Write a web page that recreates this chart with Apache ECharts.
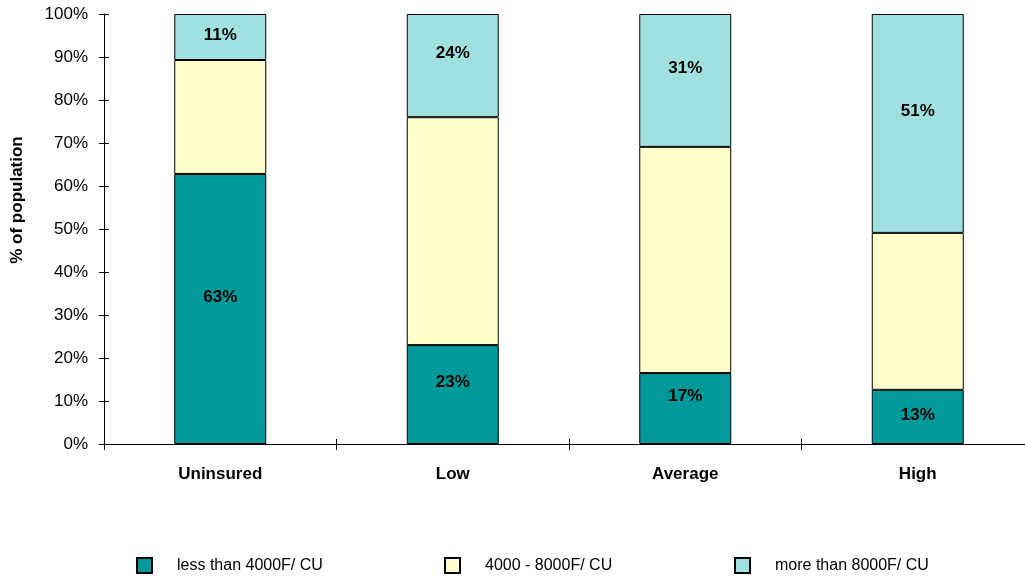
<!DOCTYPE html>
<html>
<head>
<meta charset="utf-8">
<script src="https://cdn.jsdelivr.net/npm/echarts@6/dist/echarts.min.js"></script>
<style>
html,body{margin:0;padding:0;background:#fff;}
#chart{width:1025px;height:577px;}
</style>
</head>
<body>
<div id="chart"></div>
<script>
const categories = ['Uninsured', 'Low', 'Average', 'High'];
const seriesNames = ['less than 4000F/ CU', '4000 - 8000F/ CU', 'more than 8000F/ CU'];
const lowValues = [62.8, 23.0, 16.5, 12.6];
const midValues = [26.5, 53.0, 52.6, 36.5];
const highValues = [10.7, 24.0, 30.9, 50.9];
const yTicks = [0, 100, 10];

const colors = ['#009999', '#FFFFCC', '#A0E0E0'];
const font = 'Arial, "Liberation Sans", sans-serif';

function labelled(values) {
  return values.map(v => ({
    value: v,
    label: { offset: [0, v >= 15 ? -12 : -2] }
  }));
}

function barSeries(name, values, color, showLabel) {
  return {
    name: name,
    type: 'bar',
    stack: 'total',
    barWidth: 92,
    data: showLabel ? labelled(values) : values,
    itemStyle: { color: color, borderColor: '#000', borderWidth: 1 },
    label: {
      show: showLabel,
      position: 'inside',
      formatter: p => Math.round(p.value) + '%',
      fontFamily: font,
      fontWeight: 'bold',
      fontSize: 17,
      color: '#000'
    },
    emphasis: { disabled: true },
    animation: false
  };
}

const chart = echarts.init(document.getElementById('chart'));
const legendLefts = [136, 444, 734];
chart.setOption({
  animation: false,
  grid: { left: 104, top: 14, width: 930, height: 430, containLabel: false, outerBoundsMode: 'none' },
  legend: seriesNames.map((n, i) => ({
    data: [n],
    left: legendLefts[i],
    top: 557,
    itemWidth: 15,
    itemHeight: 15,
    icon: 'rect',
    padding: 0,
    selectedMode: false,
    textStyle: { fontFamily: font, fontSize: 16, color: '#000', padding: [0, 0, 0, 20] }
  })),
  xAxis: [{
    type: 'category',
    data: categories,
    position: 'bottom',
    axisLine: { lineStyle: { color: '#000', width: 1 } },
    axisTick: { show: true, length: 6, lineStyle: { color: '#000' } },
    axisLabel: { fontFamily: font, fontWeight: 'bold', fontSize: 17, color: '#000', margin: 22 },
    splitLine: { show: false }
  }, {
    type: 'category',
    data: categories,
    position: 'bottom',
    axisLine: { show: false },
    axisTick: { show: true, inside: true, length: 5, lineStyle: { color: '#000' } },
    axisLabel: { show: false },
    splitLine: { show: false }
  }],
  yAxis: [{
    type: 'value',
    min: yTicks[0],
    max: yTicks[1],
    interval: yTicks[2],
    name: '% of population',
    nameLocation: 'middle',
    nameGap: 78,
    nameTextStyle: { fontFamily: font, fontWeight: 'bold', fontSize: 17, color: '#000', padding: [0, 0, 0, 58] },
    axisLine: { show: true, lineStyle: { color: '#000', width: 1 } },
    axisTick: { show: true, length: 5, lineStyle: { color: '#000' } },
    axisLabel: { formatter: '{value}%', fontFamily: font, fontSize: 17, color: '#000', margin: 16 },
    splitLine: { show: false }
  }, {
    type: 'value',
    min: yTicks[0],
    max: yTicks[1],
    interval: yTicks[2],
    position: 'left',
    axisLine: { show: false },
    axisTick: { show: true, inside: true, length: 5, lineStyle: { color: '#000' } },
    axisLabel: { show: false },
    splitLine: { show: false }
  }],
  series: [
    barSeries(seriesNames[0], lowValues, colors[0], true),
    barSeries(seriesNames[1], midValues, colors[1], false),
    barSeries(seriesNames[2], highValues, colors[2], true)
  ]
});
</script>
</body>
</html>
